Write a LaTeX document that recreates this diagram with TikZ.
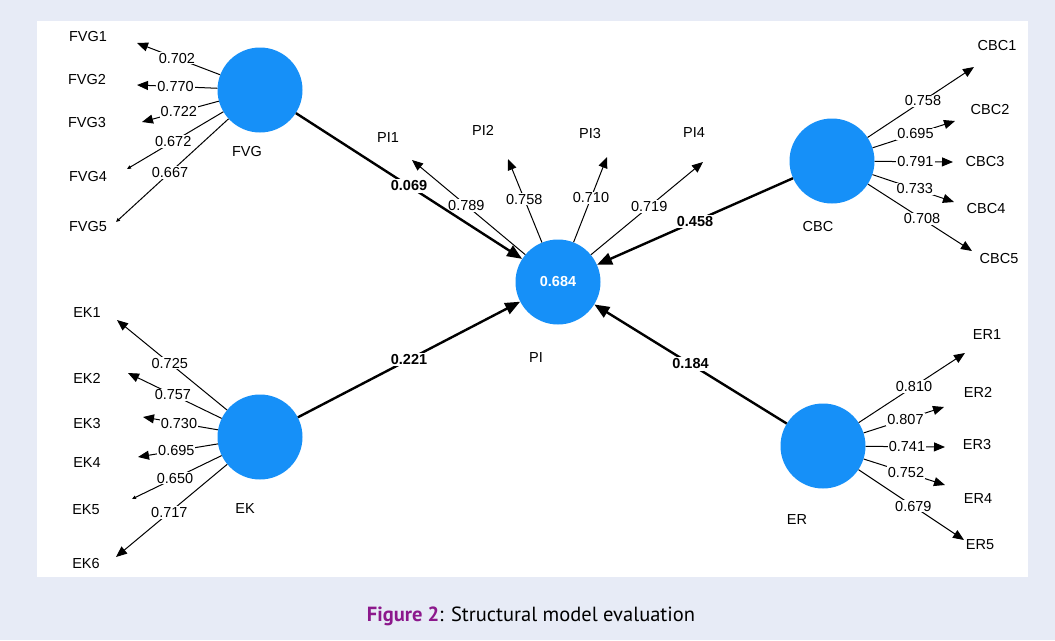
\documentclass[tikz,border=0pt]{standalone}
\usepackage{fontspec}
\setmainfont{Liberation Sans}
\newfontfamily\capfont{PT Sans}
\usetikzlibrary{arrows.meta}
\definecolor{pagebg}{RGB}{231,235,246}
\definecolor{lvblue}{RGB}{22,144,248}
\definecolor{figpurple}{RGB}{140,24,140}
\begin{document}
\begin{tikzpicture}[x=1pt,y=-1pt,
  lv/.style={circle,fill=lvblue,minimum size=85pt,inner sep=0pt},
  ind/.style={font=\fontsize{14.5}{16}\selectfont,inner sep=0pt},
  ld/.style={-{Triangle[length=11pt,width=9pt]},line width=1pt},
  ldthin/.style={-{Triangle[length=4pt,width=3.5pt]},line width=1pt},
  sp/.style={-{Triangle[length=15pt,width=12pt]},line width=2.4pt},
  val/.style={font=\fontsize{14.5}{16}\selectfont,fill=white,inner sep=1pt,pos=0.52},
  coef/.style={font=\bfseries\fontsize{14.5}{16}\selectfont,fill=white,inner sep=1.5pt,midway}]
\useasboundingbox (0,0) rectangle (1055,640);
\fill[pagebg] (0,0) rectangle (1055,640);
\fill[white] (37,21) rectangle (1028,577);

\node[lv] (fvg) at (260,90){};
\node[lv] (pi) at (558,282){\color{white}\bfseries\fontsize{14.5}{16}\selectfont 0.684};
\node[lv] (cbc) at (832,161){};
\node[lv] (ek) at (260,437){};
\node[lv] (er) at (823,446){};
\node[ind] (fvgl) at (247,152){FVG};
\node[ind] (pil) at (536,358){PI};
\node[ind] (cbcl) at (818,227){CBC};
\node[ind] (ekl) at (245,509){EK};
\node[ind] (erl) at (797,520){ER};

\node[ind] (fvg1) at (88,37){FVG1};
\node[ind] (fvg2) at (87,80){FVG2};
\node[ind] (fvg3) at (87,123){FVG3};
\node[ind] (fvg4) at (88,177){FVG4};
\node[ind] (fvg5) at (88,227){FVG5};
\coordinate (fvg1t) at (137,43);
\coordinate (fvg2t) at (137,85);
\coordinate (fvg3t) at (142,122);
\coordinate (fvg4t) at (127,169);
\coordinate (fvg5t) at (116,222);
\draw[ld] (fvg) -- node[val]{0.702} (fvg1t);
\draw[ld] (fvg) -- node[val]{0.770} (fvg2t);
\draw[ld] (fvg) -- node[val]{0.722} (fvg3t);
\draw[ldthin] (fvg) -- node[val]{0.672} (fvg4t);
\draw[ldthin] (fvg) -- node[val]{0.667} (fvg5t);

\node[ind] (pi1) at (388,138){PI1};
\node[ind] (pi2) at (483,130){PI2};
\node[ind] (pi3) at (590,134){PI3};
\node[ind] (pi4) at (694,133){PI4};
\coordinate (pi1t) at (412,160);
\coordinate (pi2t) at (508,159);
\coordinate (pi3t) at (607,157);
\coordinate (pi4t) at (703,162);
\draw[ld] (pi) -- node[val]{0.789} (pi1t);
\draw[ld] (pi) -- node[val]{0.758} (pi2t);
\draw[ld] (pi) -- node[val]{0.710} (pi3t);
\draw[ld] (pi) -- node[val]{0.719} (pi4t);

\node[ind] (cbc1) at (997,46){CBC1};
\node[ind] (cbc2) at (990,110){CBC2};
\node[ind] (cbc3) at (985,162){CBC3};
\node[ind] (cbc4) at (986,209){CBC4};
\node[ind] (cbc5) at (999,259){CBC5};
\coordinate (cbc1t) at (974,67);
\coordinate (cbc2t) at (955,121);
\coordinate (cbc3t) at (953,162);
\coordinate (cbc4t) at (954,202);
\coordinate (cbc5t) at (972,251);
\draw[ld] (cbc) -- node[val]{0.758} (cbc1t);
\draw[ld] (cbc) -- node[val]{0.695} (cbc2t);
\draw[ld] (cbc) -- node[val]{0.791} (cbc3t);
\draw[ld] (cbc) -- node[val]{0.733} (cbc4t);
\draw[ld] (cbc) -- node[val]{0.708} (cbc5t);

\node[ind] (ek1) at (87,313){EK1};
\node[ind] (ek2) at (87,378){EK2};
\node[ind] (ek3) at (87,424){EK3};
\node[ind] (ek4) at (87,463){EK4};
\node[ind] (ek5) at (86,510){EK5};
\node[ind] (ek6) at (86,564){EK6};
\coordinate (ek1t) at (117,320);
\coordinate (ek2t) at (128,373);
\coordinate (ek3t) at (143,417);
\coordinate (ek4t) at (138,457);
\coordinate (ek5t) at (132,499);
\coordinate (ek6t) at (116,557);
\draw[ld] (ek) -- node[val]{0.725} (ek1t);
\draw[ld] (ek) -- node[val]{0.757} (ek2t);
\draw[ld] (ek) -- node[val]{0.730} (ek3t);
\draw[ld] (ek) -- node[val]{0.695} (ek4t);
\draw[ldthin] (ek) -- node[val]{0.650} (ek5t);
\draw[ld] (ek) -- node[val]{0.717} (ek6t);

\node[ind] (er1) at (987,335){ER1};
\node[ind] (er2) at (978,392){ER2};
\node[ind] (er3) at (977,445){ER3};
\node[ind] (er4) at (978,499){ER4};
\node[ind] (er5) at (980,545){ER5};
\coordinate (er1t) at (965,353);
\coordinate (er2t) at (944,407);
\coordinate (er3t) at (945,447);
\coordinate (er4t) at (945,485);
\coordinate (er5t) at (964,540);
\draw[ld] (er) -- node[val]{0.810} (er1t);
\draw[ld] (er) -- node[val]{0.807} (er2t);
\draw[ld] (er) -- node[val]{0.741} (er3t);
\draw[ld] (er) -- node[val]{0.752} (er4t);
\draw[ld] (er) -- node[val]{0.679} (er5t);

\draw[sp] (fvg) -- node[coef]{0.069} (pi);
\draw[sp] (cbc) -- node[coef]{0.458} (pi);
\draw[sp] (ek) -- node[coef]{0.221} (pi);
\draw[sp] (er) -- node[coef]{0.184} (pi);

\node[font=\capfont\fontsize{20.5}{22}\selectfont] (cap) at (531,616){\textcolor{figpurple}{\bfseries Figure 2}: Structural model evaluation};
\end{tikzpicture}
\end{document}
